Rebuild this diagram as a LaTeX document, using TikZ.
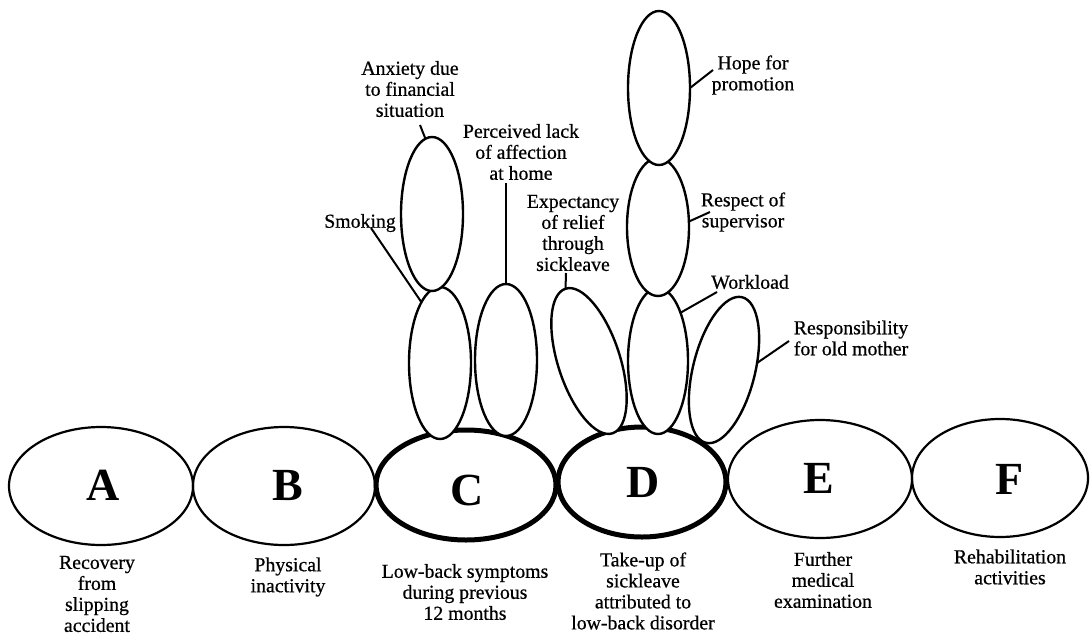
\documentclass[tikz,border=0pt]{standalone}
\usepackage{fontspec}
\setmainfont{Liberation Serif}
\newfontfamily\heavyserif[FakeBold=0.6]{Liberation Serif}
\usetikzlibrary{shapes.geometric}
\begin{document}
\begin{tikzpicture}[x=1pt,y=-1pt,
  main/.style={draw, ellipse, line width=2.2pt, inner sep=0pt, outer sep=0pt},
  key/.style={main, line width=5pt},
  sub/.style={draw, ellipse, fill=white, line width=2.4pt, inner sep=0pt, outer sep=0pt},
  letter/.style={font=\fontsize{46}{46}\selectfont\bfseries, inner sep=0pt},
  lbl/.style={align=center, font=\heavyserif\fontsize{19.8}{21}\selectfont, inner sep=0pt},
  lead/.style={line width=2pt}]
\useasboundingbox (0,0) rectangle (1091,637);

% main chain
\node[main, minimum width=184pt, minimum height=118pt] (A) at (101,486) {};
\node[main, minimum width=182pt, minimum height=118pt] (B) at (284,486) {};
\node[key,  minimum width=180pt, minimum height=110pt] (C) at (466,485) {};
\node[key,  minimum width=168pt, minimum height=110pt] (D) at (642,482) {};
\node[main, minimum width=184pt, minimum height=118pt] (E) at (820,479) {};
\node[main, minimum width=176pt, minimum height=118pt] (F) at (1000,478) {};

\node[letter] (lA) at (103,485) {A};
\node[letter] (lB) at (288,485) {B};
\node[letter] (lC) at (467,490) {C};
\node[letter] (lD) at (643,482) {D};
\node[letter] (lE) at (819,478) {E};
\node[letter] (lF) at (1010,479) {F};

% sub ellipses over C
\node[sub, minimum width=62pt, minimum height=152pt] (s1) at (440,363) {};
\node[sub, minimum width=62pt, minimum height=154pt] (s2) at (432,214) {};
\node[sub, minimum width=62pt, minimum height=152pt] (s3) at (506,360) {};

% sub ellipses over D
\node[sub, minimum width=62pt, minimum height=152pt, rotate=18] (s4) at (589,361) {};
\node[sub, minimum width=62pt, minimum height=150pt, rotate=-14] (s9) at (724,370) {};
\node[sub, minimum width=60pt, minimum height=146pt] (s8) at (658,361) {};
\node[sub, minimum width=62pt, minimum height=138pt] (s7) at (658,227) {};
\node[sub, minimum width=62pt, minimum height=154pt] (s6) at (659,88) {};

% labels of sub ellipses
\node[lbl] (anx) at (410,89) {Anxiety due\\to financial\\situation};
\node[lbl] (per) at (521,152) {Perceived lack\\of affection\\at home};
\node[lbl] (exp) at (573,233) {Expectancy\\of relief\\through\\sickleave};
\node[lbl] (smk) at (360,223) {Smoking};
\node[lbl] (hope) at (753,75) {Hope for\\promotion};
\node[lbl] (resp) at (743,212) {Respect of\\supervisor};
\node[lbl] (work) at (750,282) {Workload};
\node[lbl] (mom) at (851,338) {Responsibility\\for old mother};

% leader ends
\coordinate (anxP) at (420,125);
\coordinate (perP) at (506,183);
\coordinate (expP) at (566,273);
\coordinate (smkP) at (371,228);
\coordinate (hopeP) at (713,70);
\coordinate (respP) at (710,212);
\coordinate (workP) at (717,292);
\coordinate (momP) at (789,341);

\draw[lead] (s2.95) -- (anxP);
\draw[lead] (s3.north) -- (perP);
\draw[lead] (s4.north) -- (expP);
\draw[lead] (s1.107) -- (smkP);
\draw[lead] (s6.east) -- (hopeP);
\draw[lead] (s7.10) -- (respP);
\draw[lead] (s8.65) -- (workP);
\draw[lead] (s9.26) -- (momP);

% bottom labels
\node[lbl] (tA) at (97,594) {Recovery\\from\\slipping\\accident};
\node[lbl] (tB) at (288,577) {Physical\\inactivity};
\node[lbl] (tC) at (465,592) {Low-back symptoms\\during previous\\12 months};
\node[lbl] (tD) at (643,591) {Take-up of\\sickleave\\attributed to\\low-back disorder};
\node[lbl] (tE) at (823,580) {Further\\medical\\examination};
\node[lbl] (tF) at (1010,567) {Rehabilitation\\activities};
\end{tikzpicture}
\end{document}
